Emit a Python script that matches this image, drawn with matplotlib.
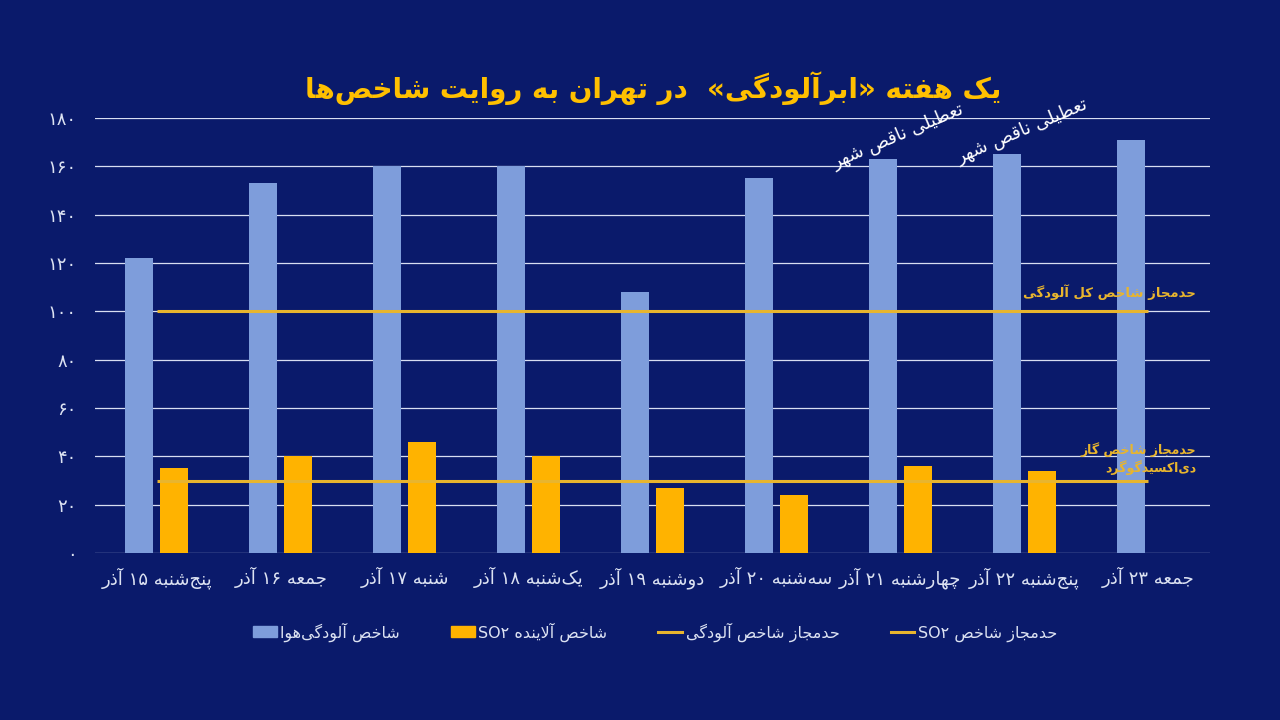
import numpy as np
import matplotlib
matplotlib.use("Agg")
import matplotlib.pyplot as plt
from matplotlib.patches import Patch
from matplotlib.lines import Line2D

# ---------------- data ----------------
categories = ["پنج‌شنبه ۱۵ آذر", "جمعه ۱۶ آذر", "شنبه ۱۷ آذر", "یک‌شنبه ۱۸ آذر",
              "دوشنبه ۱۹ آذر", "سه‌شنبه ۲۰ آذر", "چهارشنبه ۲۱ آذر",
              "پنج‌شنبه ۲۲ آذر", "جمعه ۲۳ آذر"]
aqi_values = [122, 153, 160, 160, 108, 155, 163, 165, 171]
so2_values = [35, 40, 46, 40, 27, 24, 36, 34, np.nan]
aqi_limit = 100
so2_limit = 30
y_ticks = [0, 20, 40, 60, 80, 100, 120, 140, 160, 180]
y_tick_labels = ["۰", "۲۰", "۴۰", "۶۰", "۸۰", "۱۰۰", "۱۲۰", "۱۴۰", "۱۶۰", "۱۸۰"]
title = "یک هفته «ابرآلودگی»  در تهران به روایت شاخص‌ها"
legend_labels = ["شاخص آلودگی‌هوا", "شاخص آلاینده SO۲", "حدمجاز شاخص آلودگی", "حدمجاز شاخص SO۲"]
aqi_limit_label = "حدمجاز شاخص کل آلودگی"
so2_limit_label = "حدمجاز شاخص گاز\nدی‌اکسیدگوگرد"
note_text = "تعطیلی ناقص شهر"
note_idx = [6, 7]

# ---------------- minimal Persian shaping + bidi ----------------
DUAL = {
    'ب': '\uFE8F\uFE90\uFE91\uFE92', 'پ': '\uFB56\uFB57\uFB58\uFB59',
    'ت': '\uFE95\uFE96\uFE97\uFE98', 'ث': '\uFE99\uFE9A\uFE9B\uFE9C',
    'ج': '\uFE9D\uFE9E\uFE9F\uFEA0', 'چ': '\uFB7A\uFB7B\uFB7C\uFB7D',
    'ح': '\uFEA1\uFEA2\uFEA3\uFEA4', 'خ': '\uFEA5\uFEA6\uFEA7\uFEA8',
    'س': '\uFEB1\uFEB2\uFEB3\uFEB4', 'ش': '\uFEB5\uFEB6\uFEB7\uFEB8',
    'ص': '\uFEB9\uFEBA\uFEBB\uFEBC', 'ض': '\uFEBD\uFEBE\uFEBF\uFEC0',
    'ط': '\uFEC1\uFEC2\uFEC3\uFEC4', 'ظ': '\uFEC5\uFEC6\uFEC7\uFEC8',
    'ع': '\uFEC9\uFECA\uFECB\uFECC', 'غ': '\uFECD\uFECE\uFECF\uFED0',
    'ف': '\uFED1\uFED2\uFED3\uFED4', 'ق': '\uFED5\uFED6\uFED7\uFED8',
    'ک': '\uFB8E\uFB8F\uFB90\uFB91', 'گ': '\uFB92\uFB93\uFB94\uFB95',
    'ل': '\uFEDD\uFEDE\uFEDF\uFEE0', 'م': '\uFEE1\uFEE2\uFEE3\uFEE4',
    'ن': '\uFEE5\uFEE6\uFEE7\uFEE8', 'ه': '\uFEE9\uFEEA\uFEEB\uFEEC',
    'ی': '\uFBFC\uFBFD\uFBFE\uFBFF', 'ي': '\uFEF1\uFEF2\uFEF3\uFEF4',
}
RIGHT = {
    'ا': '\uFE8D\uFE8E', 'آ': '\uFE81\uFE82', 'د': '\uFEA9\uFEAA',
    'ذ': '\uFEAB\uFEAC', 'ر': '\uFEAD\uFEAE', 'ز': '\uFEAF\uFEB0',
    'ژ': '\uFB8A\uFB8B', 'و': '\uFEED\uFEEE',
}
LAMALEF = {'ا': '\uFEFB\uFEFC', 'آ': '\uFEF5\uFEF6'}
MIRROR = {'«': '»', '»': '«', '(': ')', ')': '('}


def _shape(s):
    out = []
    n = len(s)
    i = 0
    while i < n:
        c = s[i]
        prev = s[i - 1] if i > 0 else None
        jp = prev in DUAL if prev else False
        if c == 'ل' and i + 1 < n and s[i + 1] in LAMALEF:
            out.append(LAMALEF[s[i + 1]][1 if jp else 0])
            i += 2
            continue
        if c in DUAL:
            nxt = s[i + 1] if i + 1 < n else None
            jn = nxt is not None and (nxt in DUAL or nxt in RIGHT)
            f = DUAL[c]
            out.append(f[3] if (jp and jn) else f[1] if jp else f[2] if jn else f[0])
        elif c in RIGHT:
            out.append(RIGHT[c][1] if jp else RIGHT[c][0])
        elif c == '\u200c':
            pass
        else:
            out.append(c)
        i += 1
    return ''.join(out)


def _is_ltr(c):
    return (c.isascii() and c.isalnum()) or ('\u06F0' <= c <= '\u06F9')


def _bidi(s):
    runs = []
    for c in s:
        t = _is_ltr(c)
        if runs and runs[-1][0] == t:
            runs[-1][1].append(c)
        else:
            runs.append([t, [c]])
    out = []
    for t, cs in reversed(runs):
        if t:
            out.extend(cs)
        else:
            out.extend(MIRROR.get(c, c) for c in reversed(cs))
    return ''.join(out)


def fa(s):
    return '\n'.join(_bidi(_shape(line)) for line in s.split('\n'))


# ---------------- style ----------------
BG = '#0A1A6B'
BLUE = '#7E9DDB'
ORANGE = '#FFB300'
GOLD = '#E8B52E'
TEXT = '#DCE2F2'
plt.rcParams['font.family'] = ['DejaVu Sans']

fig = plt.figure(figsize=(12.8, 7.2), dpi=100, facecolor=BG)
ax = fig.add_axes([95 / 1280, 1 - 553 / 720, 1115 / 1280, 435 / 720])
ax.set_facecolor('none')

x = np.arange(len(categories))
w = 0.226
off = 0.141
ax.bar(x - off, aqi_values, width=w, color=BLUE, zorder=3)
ax.bar(x + off, so2_values, width=w, color=ORANGE, zorder=3)
ax.hlines(aqi_limit, x[0], x[-1], color=GOLD, lw=2.2, zorder=4)
ax.hlines(so2_limit, x[0], x[-1], color=GOLD, lw=2.2, zorder=4)

ax.set_xlim(-0.5, len(categories) - 0.5)
ax.set_ylim(0, 180)
ax.set_yticks(y_ticks)
ax.set_yticklabels([fa(t) for t in y_tick_labels], color=TEXT, fontsize=13)
ax.set_xticks(x)
ax.set_xticklabels([fa(c) for c in categories], color=TEXT, fontsize=13)
ax.tick_params(axis='y', length=0, pad=13)
ax.tick_params(axis='x', length=0, pad=10)
ax.yaxis.grid(True, color='#D8DEF2', lw=0.9, zorder=1)
ax.set_axisbelow(True)
for sp in ax.spines.values():
    sp.set_visible(False)

# title
fig.text(0.51, 1 - 88 / 720, fa(title), fontsize=20, fontweight='bold', color='#FFC000',
         ha='center', va='center')

# notes
for i in note_idx:
    ax.annotate(fa(note_text), xy=(x[i] - off - w / 2, aqi_values[i]), xytext=(-23, -9),
                textcoords='offset points', rotation=23, rotation_mode='anchor',
                ha='left', va='bottom', color='white', fontsize=13, zorder=5)

# limit labels
ax.text(x[-1] + 0.39, aqi_limit + 8, fa(aqi_limit_label), color=GOLD, fontsize=9.5,
        fontweight='bold', ha='right', va='center', zorder=5)
ax.text(x[-1] + 0.39, so2_limit + 9, fa(so2_limit_label), color=GOLD, fontsize=9,
        fontweight='bold', ha='right', va='center', multialignment='right',
        linespacing=1.3, zorder=5)

# legend
handles = [Patch(color=BLUE), Patch(color=ORANGE),
           Line2D([], [], color=GOLD, lw=2.2), Line2D([], [], color=GOLD, lw=2.2)]
fig.legend(handles, [fa(l) for l in legend_labels], loc='center',
           bbox_to_anchor=(655 / 1280, 1 - 632 / 720),
           ncol=4, frameon=False, fontsize=11.5, labelcolor=TEXT, columnspacing=3.2,
           handlelength=1.5, handletextpad=0.2)

fig.savefig('out.png', dpi=100, facecolor=BG)
